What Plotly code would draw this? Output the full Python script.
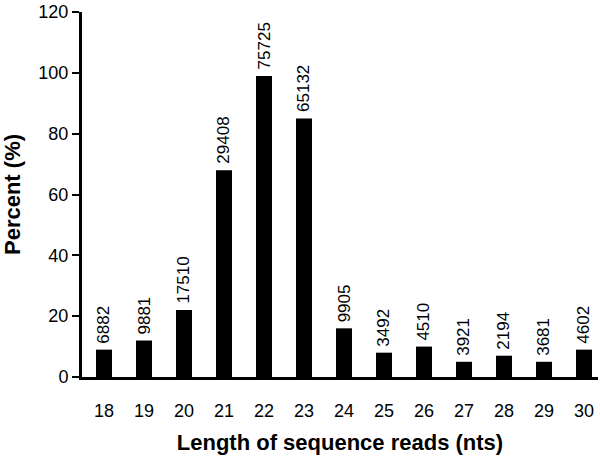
import plotly.graph_objects as go

# comprimento das leituras (nts)
comprimentos = [18, 19, 20, 21, 22, 23, 24, 25, 26, 27, 28, 29, 30]
# percentuais
percentuais = [9, 12, 22, 68, 99, 85, 16, 8, 10, 5, 7, 5, 9]
# número de leituras escrito acima de cada barra
contagens = ['6882', '9881', '17510', '29408', '75725', '65132', '9905',
             '3492', '4510', '3921', '2194', '3681', '4602']

fig = go.Figure(data=[go.Bar(x=comprimentos, y=percentuais,
                             marker=dict(color='black', line=dict(width=0)),
                             width=0.4)])

# rotulos verticais acima das barras
for c, p, t in zip(comprimentos, percentuais, contagens):
    fig.add_annotation(x=c, y=p, text=t, textangle=-90, showarrow=False,
                       yanchor='bottom', xanchor='center', yshift=4,
                       font=dict(size=17, color='black', family='Arial'))

fig.update_layout(width=600, height=459,
                  margin=dict(l=82, r=2, t=10, b=82),
                  plot_bgcolor='white', paper_bgcolor='white',
                  font=dict(family='Arial', size=18, color='black'),
                  showlegend=False)

fig.update_xaxes(range=[17.45, 30.35], tickmode='array', tickvals=comprimentos,
                 showline=True, linecolor='black', linewidth=3, showgrid=False,
                 ticks='', ticklabelstandoff=15, zeroline=False,
                 title=dict(text='<b>Length of sequence reads (nts)</b>', standoff=16))
fig.update_yaxes(range=[0, 120], dtick=20, showline=True, linecolor='black', linewidth=3,
                 showgrid=False, ticks='outside', ticklen=7, tickwidth=2, tickcolor='black',
                 zeroline=False,
                 title=dict(text='<b>Percent (%)</b>', standoff=16))

fig.write_html("out.html", config={'displayModeBar': False},
               post_script="document.body.style.margin='0';")
